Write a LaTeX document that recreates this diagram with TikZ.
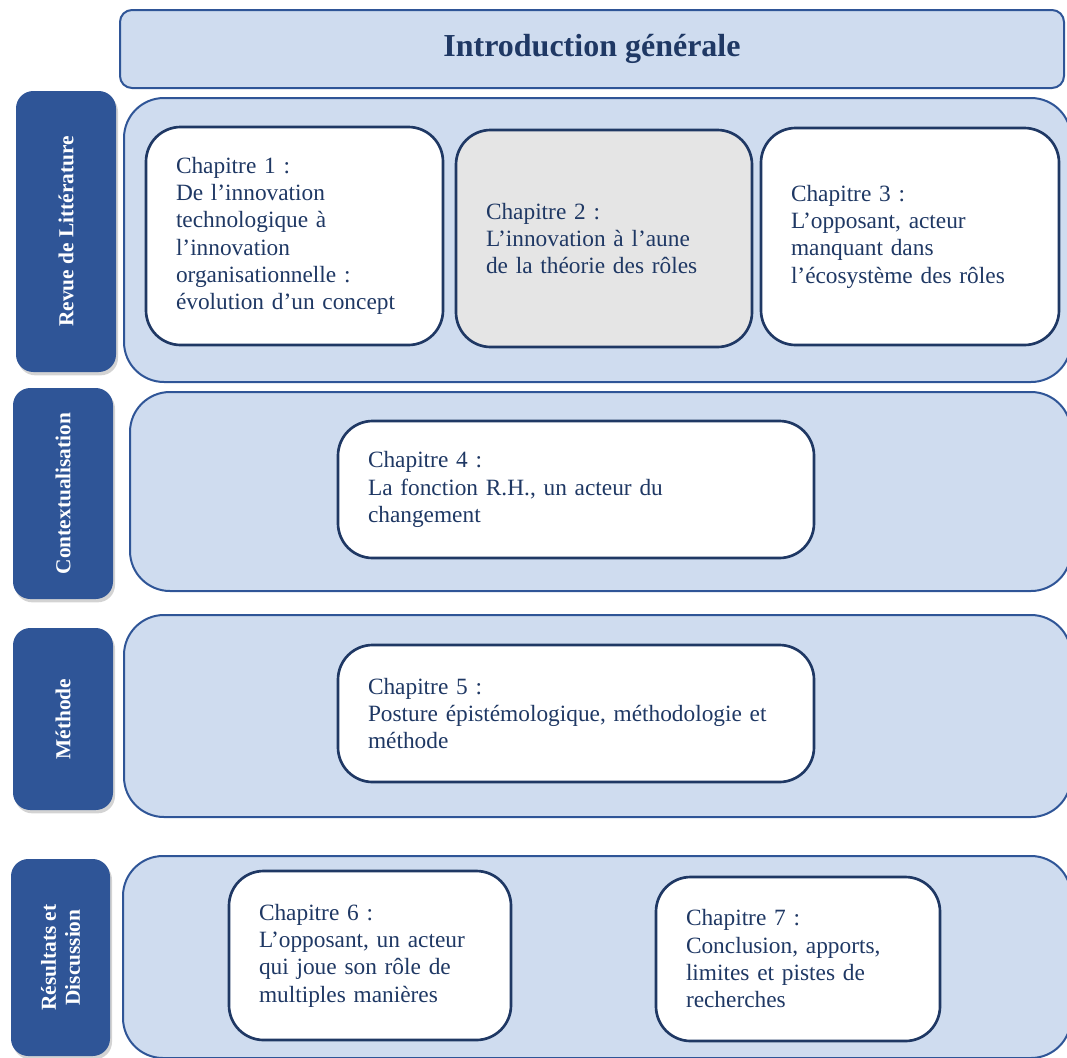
\documentclass[tikz,border=0pt]{standalone}
\usepackage{fontspec}
\setmainfont{Liberation Serif}
\usetikzlibrary{shadows}
\definecolor{bandfill}{RGB}{207,220,239}
\definecolor{bandline}{RGB}{47,85,151}
\definecolor{navy}{RGB}{31,56,100}
\definecolor{chapgray}{RGB}{229,229,229}

\begin{document}
\begin{tikzpicture}[
  x=0.75pt, y=-0.75pt,
  band/.style={draw=bandline, fill=bandfill, line width=1.5pt, rounded corners=30pt},
  tab/.style={fill=bandline, rounded corners=13pt, rotate=90, text=white, align=center,
    font=\bfseries\fontsize{16}{18}\selectfont, inner sep=0pt,
    drop shadow={shadow xshift=1.5pt, shadow yshift=-2.5pt, opacity=0.35}},
  chap/.style={draw=navy, fill=white, line width=2pt, rounded corners=26pt, text=navy,
    align=left, inner xsep=22.5pt, font=\fontsize{17.5}{20.5}\selectfont}
]
\useasboundingbox (0,0) rectangle (1067,1057);

\node [band, rounded corners=9pt, minimum width=708pt, minimum height=58.5pt,
  text=navy, font=\bfseries\fontsize{24}{28}\selectfont] (intro) at (592,49) {Introduction générale};

\node [band, minimum width=710.25pt, minimum height=213pt] (pRevue) at (597.5,240) {};
\node [band, minimum width=705.75pt, minimum height=149.25pt] (pCtx) at (600.5,491.5) {};
\node [band, minimum width=710.25pt, minimum height=151.5pt] (pMeth) at (597.5,716) {};
\node [band, minimum width=711pt, minimum height=151.5pt] (pRes) at (597,957) {};

\node [tab, minimum width=210.75pt, minimum height=75pt] (tRevue) at (66,231.5) {Revue de Littérature};
\node [tab, minimum width=158.25pt, minimum height=75pt] (tCtx) at (63,493.5) {Contextualisation};
\node [tab, minimum width=136.5pt, minimum height=75pt] (tMeth) at (63,719) {Méthode};
\node [tab, minimum width=147.75pt, minimum height=74.25pt] (tRes) at (60.5,957.5) {Résultats et\\Discussion};

\node [chap, text width=177.75pt, minimum height=163.5pt] (ch1) at (294.5,236)
  {Chapitre 1 :\\De l’innovation\\technologique à\\l’innovation\\organisationnelle :\\évolution d’un concept};
\node [chap, fill=chapgray, text width=177pt, minimum height=162.75pt] (ch2) at (604,238.5)
  {Chapitre 2 :\\L’innovation à l’aune\\de la théorie des rôles};
\node [chap, text width=178.5pt, minimum height=162.75pt] (ch3) at (910,236.5)
  {Chapitre 3 :\\L’opposant, acteur\\manquant dans\\l’écosystème des rôles};
\node [chap, text width=312pt, minimum height=102.75pt] (ch4) at (576,489.5)
  {Chapitre 4 :\\La fonction R.H., un acteur du\\changement};
\node [chap, text width=312pt, minimum height=102.75pt] (ch5) at (576,713.5)
  {Chapitre 5 :\\Posture épistémologique, méthodologie et\\méthode};
\node [chap, text width=166.5pt, minimum height=126.75pt] (ch6) at (370,955.5)
  {Chapitre 6 :\\L’opposant, un acteur\\qui joue son rôle de\\multiples manières};
\node [chap, text width=168pt, minimum height=123pt] (ch7) at (798,959)
  {Chapitre 7 :\\Conclusion, apports,\\limites et pistes de\\recherches};
\end{tikzpicture}
\end{document}
